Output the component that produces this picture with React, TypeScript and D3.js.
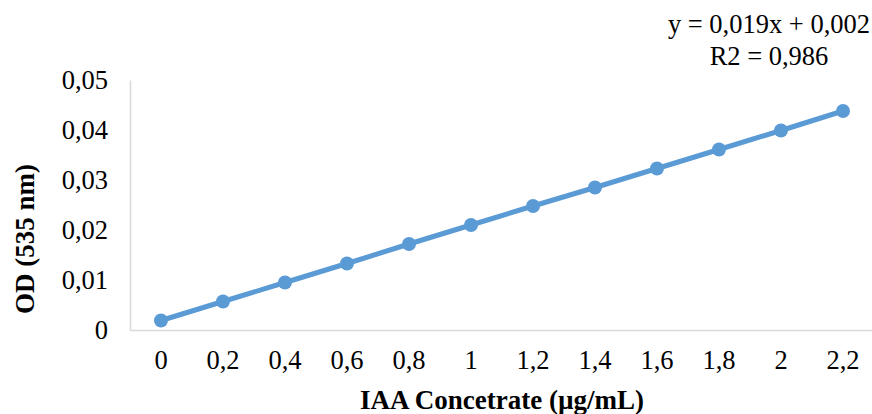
import * as d3 from "d3"
import React, { useEffect, useRef } from "react"

// concentrations (µg/mL) and measured OD at 535 nm
const concentrations = ["0", "0,2", "0,4", "0,6", "0,8", "1", "1,2", "1,4", "1,6", "1,8", "2", "2,2"]
const odValues = [0.0019, 0.0057, 0.0095, 0.0133, 0.0172, 0.021, 0.0248, 0.0285, 0.0323, 0.0361, 0.0399, 0.0438]
const yTicks = [0, 0.01, 0.02, 0.03, 0.04, 0.05]
const equationLines = ["y = 0,019x + 0,002", "R2 = 0,986"]

const width = 872
const height = 414
const FONT = "'Liberation Serif', 'Times New Roman', serif"

const App = () => {
    const ref = useRef<SVGSVGElement>(null)

    useEffect(() => {
        const svg = d3.select(ref.current)
        svg.selectAll("*").remove()

        const margins = { left: 130, right: -2, top: 80, bottom: 84 }

        const scaleX = d3.scaleBand()
            .domain(concentrations)
            .range([margins.left, width - margins.right])
        const scaleY = d3.scaleLinear()
            .domain([0, 0.05])
            .range([height - margins.bottom, margins.top])

        const fmt = (v: number) => (v === 0 ? "0" : d3.format(".2f")(v).replace(".", ","))

        // y axis
        const gY = svg.append("g")
            .attr("transform", `translate(${margins.left},0)`)
            .call(d3.axisLeft(scaleY).tickValues(yTicks).tickSize(0).tickPadding(22).tickFormat(d => fmt(+d)))
        gY.select(".domain").attr("stroke", "#d9d9d9").attr("stroke-width", 1.5)
        gY.selectAll("text")
            .attr("font-family", FONT)
            .attr("font-size", 26.5)
            .attr("fill", "#000")

        // x axis
        const gX = svg.append("g")
            .attr("transform", `translate(0,${height - margins.bottom})`)
            .call(d3.axisBottom(scaleX).tickSize(0).tickPadding(20))
        gX.select(".domain").attr("stroke", "#d9d9d9").attr("stroke-width", 1.5)
        gX.selectAll("text")
            .attr("font-family", FONT)
            .attr("font-size", 26.5)
            .attr("fill", "#000")

        const cx = (d: string) => (scaleX(d) ?? 0) + scaleX.bandwidth() / 2
        const points = concentrations.map((c, i) => ({ c, v: odValues[i] }))

        const line = d3.line<{ c: string; v: number }>()
            .x(d => cx(d.c))
            .y(d => scaleY(d.v))

        svg.append("path")
            .datum(points)
            .attr("d", line)
            .attr("fill", "none")
            .attr("stroke", "#5b9bd5")
            .attr("stroke-width", 5)
            .attr("stroke-linejoin", "round")

        svg.selectAll(".pt")
            .data(points)
            .join("circle")
            .attr("class", "pt")
            .attr("cx", d => cx(d.c))
            .attr("cy", d => scaleY(d.v))
            .attr("r", 7)
            .attr("fill", "#5b9bd5")

        // trendline equation
        svg.append("g")
            .selectAll("text")
            .data(equationLines)
            .join("text")
            .attr("x", 769)
            .attr("y", (d, i) => 33 + i * 32)
            .attr("text-anchor", "middle")
            .attr("font-family", FONT)
            .attr("font-size", 26.5)
            .text(d => d)

        // axis titles
        svg.append("text")
            .attr("x", (margins.left + width - margins.right) / 2)
            .attr("y", 409)
            .attr("text-anchor", "middle")
            .attr("font-family", FONT)
            .attr("font-size", 27)
            .attr("font-weight", "bold")
            .text("IAA Concetrate (µg/mL)")

        svg.append("text")
            .attr("transform", `translate(34,239) rotate(-90)`)
            .attr("text-anchor", "middle")
            .attr("font-family", FONT)
            .attr("font-size", 27)
            .attr("font-weight", "bold")
            .text("OD (535 nm)")
    }, [])

    return (
        <svg ref={ref} width={width} height={height}
            style={{ position: "absolute", left: 0, top: 0, background: "#fff" }} />
    )
}

export default App
